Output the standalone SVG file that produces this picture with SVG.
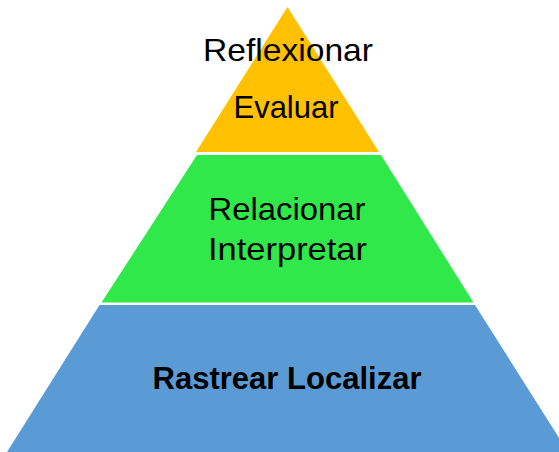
<svg xmlns="http://www.w3.org/2000/svg" width="559" height="452" viewBox="0 0 559 452">
<style>
.t{font-family:"Liberation Sans",Arial,sans-serif;font-size:32px;fill:#000;text-anchor:middle}
.b{font-weight:bold;font-size:31px}
</style>
<rect width="559" height="452" fill="#fff"/>
<g id="top">
<polygon points="287.5,7 379,152 196,152" fill="#FFC000"/>
<text class="t" x="288" y="61" textLength="170" lengthAdjust="spacingAndGlyphs">Reflexionar</text>
<text class="t" x="286" y="118" textLength="105" lengthAdjust="spacingAndGlyphs">Evaluar</text>
</g>
<g id="middle">
<polygon points="197,155 381,155 473.5,302.5 101.5,302.5" fill="#31E84A"/>
<text class="t" x="287" y="220" textLength="157" lengthAdjust="spacingAndGlyphs">Relacionar</text>
<text class="t" x="287.5" y="260" textLength="159" lengthAdjust="spacingAndGlyphs">Interpretar</text>
</g>
<g id="bottom">
<polygon points="99.5,305 475,305 568,452 7,452" fill="#5B9BD5"/>
<text class="t b" x="287" y="389" textLength="269" lengthAdjust="spacingAndGlyphs">Rastrear Localizar</text>
</g>
<g id="connectors"/>
</svg>
